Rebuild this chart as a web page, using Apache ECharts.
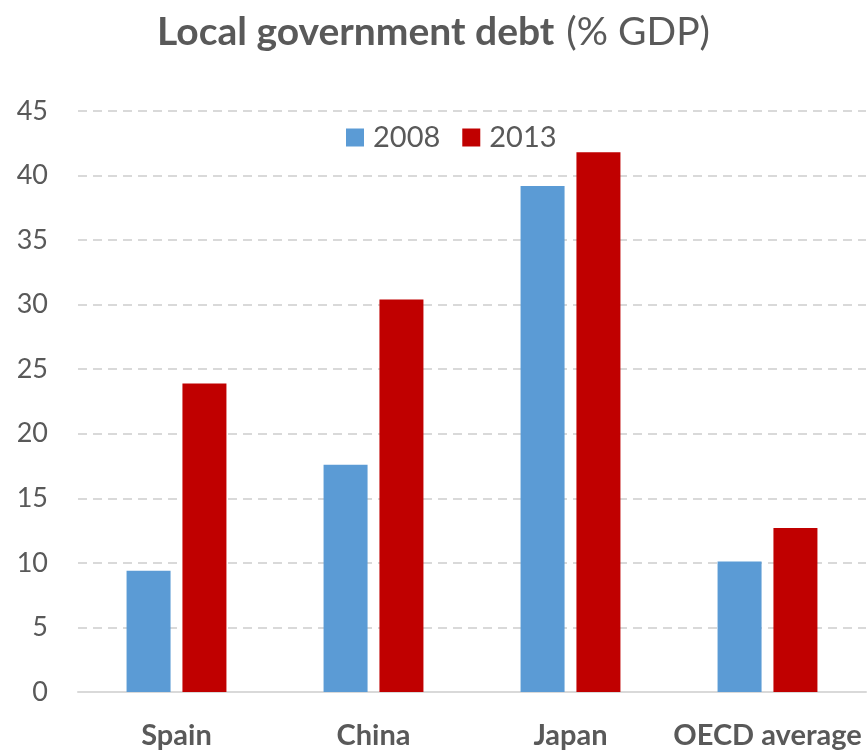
<!DOCTYPE html>
<html>
<head>
<meta charset="utf-8">
<script src="https://cdn.jsdelivr.net/npm/echarts@6/dist/echarts.min.js"></script>
<style>html,body{margin:0;padding:0;background:#fff}#c{width:867px;height:750px}</style>
</head>
<body>
<div id="c"></div>
<script>
var categories = ['Spain', 'China', 'Japan', 'OECD average'];
var values2008 = [9.4, 17.6, 39.2, 10.1];
var values2013 = [23.9, 30.4, 41.8, 12.7];
var seriesNames = ['2008', '2013'];

var chart = echarts.init(document.getElementById('c'), null, {renderer: 'canvas'});
var font = 'Lato, "Open Sans", sans-serif';
chart.setOption({
  animation: false,
  backgroundColor: '#fff',
  title: {
    text: '{b|Local government debt}{s| }{n|(% GDP)}',
    left: 'center',
    top: 8,
    textStyle: {
      rich: {
        b: {fontFamily: font, fontWeight: 'bold', fontSize: 39, color: '#595959'},
        s: {fontFamily: font, fontSize: 39, width: 12},
        n: {fontFamily: font, fontWeight: 'normal', fontSize: 39, color: '#595959'}
      }
    }
  },
  legend: {
    data: seriesNames,
    left: 341,
    top: 118,
    itemWidth: 18,
    itemHeight: 18,
    itemGap: 22,
    icon: 'rect',
    textStyle: {fontFamily: font, fontSize: 29, color: '#595959', padding: [0, 0, 0, 4]}
  },
  grid: {left: 78, right: 1, top: 111, bottom: 57, containLabel: false},
  xAxis: {
    type: 'category',
    data: categories,
    axisLine: {show: true, lineStyle: {color: '#d9d9d9', width: 2}},
    axisTick: {show: false},
    axisLabel: {fontFamily: font, fontWeight: 'bold', fontSize: 29, color: '#595959', margin: 29, interval: 0}
  },
  yAxis: {
    type: 'value',
    min: 0,
    max: 45,
    interval: 5,
    axisLine: {show: false},
    axisTick: {show: false},
    axisLabel: {fontFamily: font, fontSize: 27, color: '#595959', margin: 30},
    splitLine: {show: true, lineStyle: {color: '#d9d9d9', width: 2, type: [9, 6]}}
  },
  series: [
    {name: seriesNames[0], type: 'bar', data: values2008, barWidth: 44, barGap: '27%',
     itemStyle: {color: '#5b9bd5'}},
    {name: seriesNames[1], type: 'bar', data: values2013, barWidth: 44, barGap: '27%',
     itemStyle: {color: '#c00000'}}
  ]
});
</script>
</body>
</html>
